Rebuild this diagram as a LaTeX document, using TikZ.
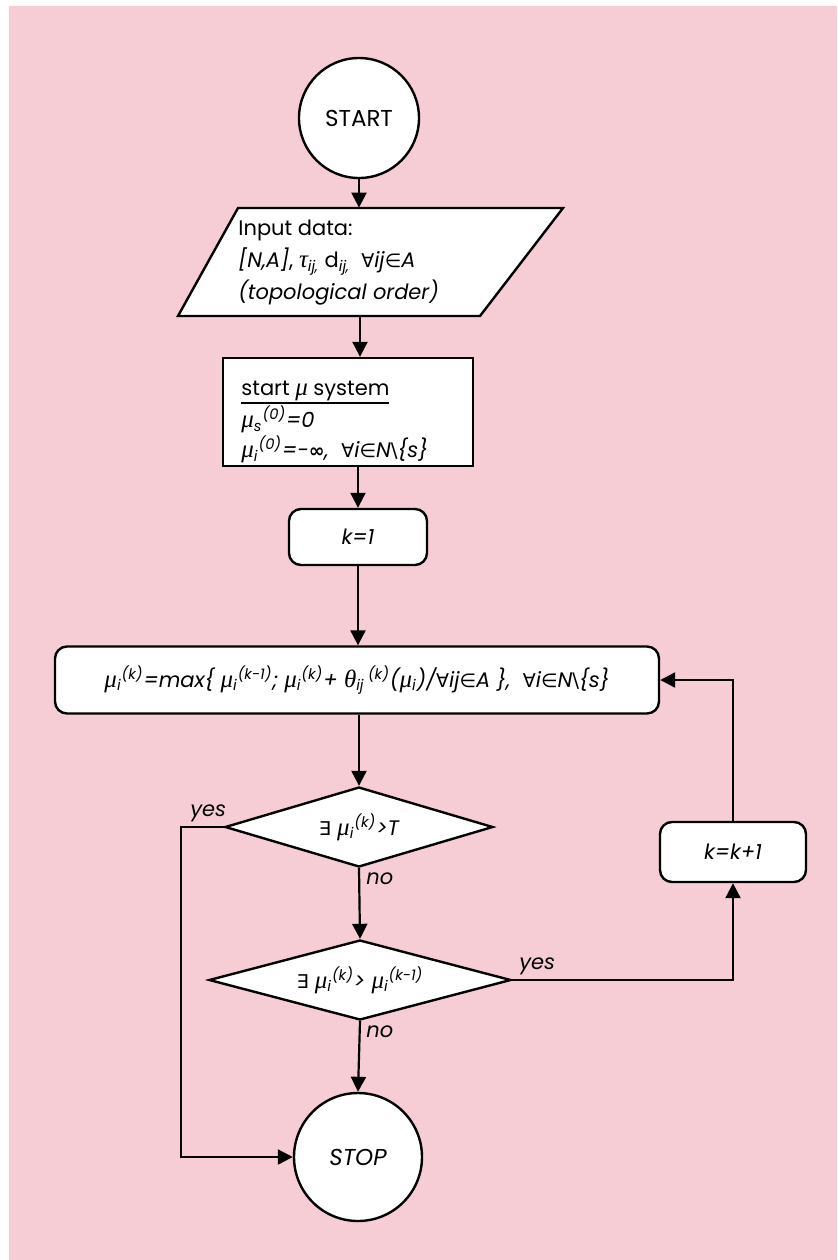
\documentclass[tikz,border=0pt]{standalone}
\usepackage{fontspec}
\setmainfont{Poppins}
\newfontfamily\grk{Liberation Serif}
\newfontfamily\symf{DejaVu Sans}
\usetikzlibrary{shapes.geometric,arrows.meta}
\definecolor{bgpink}{RGB}{246,204,213}
\newcommand{\myul}[1]{\leavevmode\vtop{\hbox{#1}\kern0.3pt\hrule height 1.2pt}}
\newcommand{\mysb}[1]{\textsubscript{#1}}
\newcommand{\mysp}[1]{\textsuperscript{#1}}
\newcommand{\gmu}{{\grk\itshape\fontsize{12.5}{15}\selectfont μ}}
\newcommand{\gtau}{{\grk\itshape\fontsize{12.5}{15}\selectfont τ}}
\newcommand{\gtheta}{{\grk\itshape\fontsize{12.5}{15}\selectfont θ}}
\newcommand{\sfa}{{\symf\upshape\fontsize{9.5}{12}\selectfont ∀}}
\newcommand{\sel}{{\symf\upshape\fontsize{9.5}{12}\selectfont ∈}}
\newcommand{\sexi}{{\symf\upshape\fontsize{9.5}{12}\selectfont ∃}}
\newcommand{\sinfy}{{\symf\upshape\bfseries\fontsize{9.5}{12}\selectfont ∞}}
\newcommand{\sbs}{{\symf\upshape\fontsize{10}{12}\selectfont\textbackslash}}
\begin{document}
\begin{tikzpicture}[x=0.5pt,y=-0.5pt,
  every node/.style={font=\fontsize{10.5}{15}\selectfont},
  shp/.style={draw=black, fill=white, line width=1.2pt},
  termc/.style={shp, circle, inner sep=0pt},
  rbox/.style={shp, rounded corners=6pt, inner sep=0pt},
  dec/.style={shp, diamond, inner sep=0pt},
  conn/.style={line width=1.1pt, draw=black},
  arr/.style={conn, -{Triangle[length=7.5pt,width=7.5pt]}},
  lbl/.style={font=\itshape\fontsize{10.5}{12}\selectfont, inner sep=0pt}
]
\useasboundingbox (0,0) rectangle (837,1260);
\fill[white] (0,0) rectangle (837,1260);
\fill[bgpink] (9,6) rectangle (837,1260);

% START
\node[termc, minimum size=60pt] (start) at (359,118) {\fontsize{11.5}{14}\selectfont\raisebox{-3pt}{START}};

% Input parallelogram
\filldraw[shp] (238,208) -- (563,208) -- (480,316) -- (178,316) -- cycle;
\node[minimum width=100pt, minimum height=54pt, inner sep=0pt] (inp) at (360,262) {};
\node[anchor=north west, align=left, inner sep=0pt, font=\fontsize{10.5}{16}\selectfont] (inptxt) at (238,220)
 {Input data:\\
  \textit{[N,A]}, \gtau\mysb{\itshape ij,} d\mysb{\itshape ij,}\ \ \sfa\textit{ij}\sel\textit{A}\\
  \textit{(topological order)}};

% start mu system
\node[shp, minimum width=125pt, minimum height=54pt, inner sep=0pt] (sys) at (348,412) {};
\node[anchor=north west, align=left, inner sep=0pt, font=\fontsize{10.5}{15}\selectfont] (systxt) at (241,381)
 {\myul{start \gmu\ system}\\
  \itshape \gmu\mysb{s}\mysp{(0)}=0\\
  \itshape \gmu\mysb{i}\mysp{(0)}=-\sinfy,\ \ \sfa i\sel N\sbs\{s\}};

% k=1
\node[rbox, minimum width=69pt, minimum height=28pt] (k1) at (358,537) {\textit{k=1}};

% update
\node[rbox, minimum width=302pt, minimum height=33.5pt] (upd) at (357,680)
 {\itshape \gmu\mysb{i}\mysp{(k)}=max\{ \gmu\mysb{i}\mysp{(k-1)}; \gmu\mysb{i}\mysp{(k)}+ \gtheta\mysb{ij}\,\mysp{(k)}(\gmu\mysb{i})/\sfa ij\sel A \},\ \ \sfa i\sel N\sbs\{s\}};

% decisions
\node[dec, minimum width=134pt, minimum height=40pt, aspect=3.35] (d1) at (359,827)
 {\itshape \sexi\ \gmu\mysb{i}\mysp{(k)}>T};
\node[dec, minimum width=151pt, minimum height=40pt, aspect=3.8] (d2) at (360,980)
 {\itshape \sexi\ \gmu\mysb{i}\mysp{(k)}> \gmu\mysb{i}\mysp{(k-1)}};

% k=k+1
\node[rbox, minimum width=73pt, minimum height=30pt] (kk) at (733,852) {\textit{k=k+1}};

% STOP
\node[termc, minimum size=64pt] (stop) at (358,1157) {\fontsize{11.5}{14}\selectfont\raisebox{-4pt}{\itshape STOP}};

\coordinate (lc) at (181,827);

% connectors
\draw[arr] (start.south) -- (start.south |- inp.north);
\draw[arr] (inp.south) -- (inp.south |- sys.north);
\draw[arr] (k1.north |- sys.south) -- (k1.north);
\draw[arr] (k1.south) -- (k1.south |- upd.north);
\draw[arr] (d1.north |- upd.south) -- (d1.north);
\draw[arr] (d1.south) -- (d2.north);
\draw[arr] (d2.south) -- (stop.north);
\draw[arr] (d1.west) -- (lc) |- (stop.west);
\draw[arr] (d2.east) -| (kk.south);
\draw[arr] (kk.north) |- (upd.east);

% labels
\node[lbl, anchor=south west] (y1) at (190,822) {yes};
\node[lbl, anchor=north west] (n1) at (366,872) {no};
\node[lbl, anchor=south west] (y2) at (519,975) {yes};
\node[lbl, anchor=north west] (n2) at (366,1025) {no};
\end{tikzpicture}
\end{document}
